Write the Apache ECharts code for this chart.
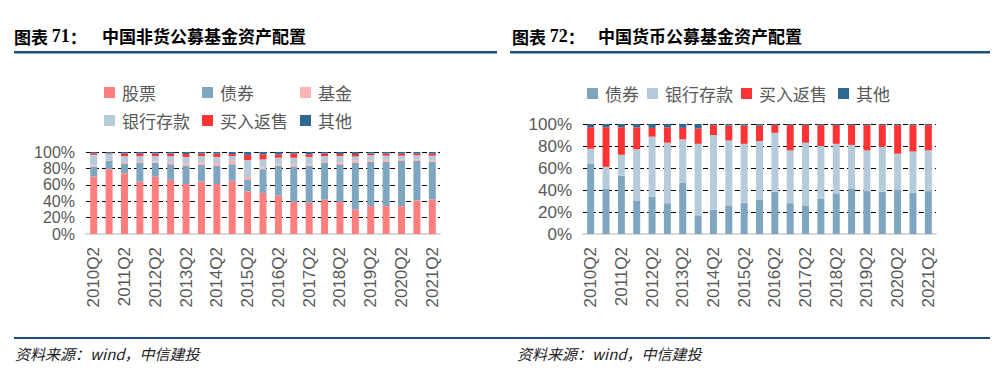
<!DOCTYPE html>
<html>
<head>
<meta charset="utf-8">
<script src="https://cdn.jsdelivr.net/npm/echarts@6/dist/echarts.min.js"></script>
<style>
html,body{margin:0;padding:0;background:#fff;}
#c{width:1002px;height:384px;}
</style>
</head>
<body>
<div id="c"></div>
<script>
// ---- data ----
const categories = ['2010Q2','2010Q4','2011Q2','2011Q4','2012Q2','2012Q4','2013Q2','2013Q4','2014Q2','2014Q4','2015Q2','2015Q4','2016Q2','2016Q4','2017Q2','2017Q4','2018Q2','2018Q4','2019Q2','2019Q4','2020Q2','2020Q4','2021Q2'];
const yTicks = [0, 20, 40, 60, 80, 100];

// Chart 71: non-money public funds (%)
const ncStock   = [70, 79, 74, 64, 70, 66, 61, 64, 61, 65, 52, 50, 47, 39, 38, 42, 39, 30, 34, 34, 34, 41, 42];
const ncBond    = [12, 10, 12, 23, 17, 19, 22, 20.5, 22, 20, 14.5, 29, 36, 43, 45, 45, 46, 57, 54, 54, 55, 48, 46];
const ncFund    = [1.5, 1, 2, 2, 1.5, 3, 3, 3, 3.5, 4, 3, 2, 2, 3, 2, 2, 2.5, 3, 2, 2.5, 2, 2, 2];
const ncDeposit = [13, 8, 7, 6, 6.5, 7, 8, 7.5, 7.5, 6, 20.5, 10, 8, 8, 9, 6, 7.5, 4.5, 6, 5, 4.5, 5, 5.5];
const ncRepo    = [2, 0.5, 3, 3, 3, 3, 3.5, 3, 4, 2.5, 6.5, 6, 4, 5, 3, 3, 2.5, 3, 2, 2.5, 2.5, 2, 2.5];
const ncOther   = [1.5, 1.5, 2, 2, 2, 2, 2.5, 2, 2, 2.5, 3.5, 3, 3, 2, 3, 2, 2.5, 2.5, 2, 2, 2, 2, 2];

// Chart 72: money market funds (%)
const mBond    = [64, 41, 53, 30, 34, 28, 46.5, 17, 22, 26, 28.5, 31, 38.5, 28, 26, 32, 37, 41.5, 39, 38.5, 40, 37.5, 39];
const mDeposit = [13.5, 20, 19, 47, 54.5, 55, 39.5, 65, 68, 59, 53.5, 53.5, 53.5, 48, 57, 48, 45, 39.5, 37, 41, 33, 37.5, 37];
const mRepo    = [19.5, 36, 25, 20, 8, 14, 10.5, 14, 9, 13.5, 16.5, 14, 7, 23, 16, 19, 17, 18, 23, 19.5, 26, 24, 23];
const mOther   = [3, 3, 3, 3, 3.5, 3, 3.5, 4, 1, 1.5, 1.5, 1.5, 1, 1, 1, 1, 1, 1, 1, 1, 1, 1, 1];

// ---- style ----
const C = {
  stock: '#FF7F7F', bond: '#7FA6C0', fund: '#FFB3B5',
  deposit: '#B5CBDA', repo: '#FF3333', other: '#2E6990'
};
const labelColor = '#595959';
const latin = '"Liberation Sans", Arial, "Noto Sans CJK SC", sans-serif';
const cjk = '"Noto Sans CJK SC", sans-serif';
const serif = '"Liberation Serif", "Times New Roman", serif';

const chart = echarts.init(document.getElementById('c'), null, {renderer: 'svg'});

function xAxis(gi) {
  return {
    type: 'category', gridIndex: gi, data: categories,
    axisLine: {show: true, lineStyle: {color: '#D9D9D9', width: 2}},
    axisTick: {show: false},
    axisLabel: {interval: 1, rotate: 90, margin: 13, color: labelColor, fontSize: 17, fontFamily: latin}
  };
}
function yAxis(gi, fs) {
  return {
    type: 'value', gridIndex: gi, min: yTicks[0], max: yTicks[yTicks.length - 1],
    interval: yTicks[1] - yTicks[0],
    axisLine: {show: false}, axisTick: {show: false},
    axisLabel: {margin: 11, color: labelColor, fontSize: fs, lineHeight: fs - 2, fontFamily: latin,
      showMinLabel: true, showMaxLabel: true, hideOverlap: false, formatter: v => v + '%'},
    splitLine: {show: true, lineStyle: {color: '#000', type: [5, 3], width: 1}}
  };
}
function bar(name, data, color, gi, stack) {
  return {
    name, type: 'bar', stack, data, xAxisIndex: gi, yAxisIndex: gi,
    barWidth: 7, itemStyle: {color}, emphasis: {disabled: true}, animation: false
  };
}
function legend(name, left, top) {
  return {
    data: [name], left, top, itemWidth: 11, itemHeight: 11, itemGap: 0,
    icon: 'rect', selectedMode: false,
    textStyle: {color: labelColor, fontSize: 17, fontFamily: cjk, padding: [0, 0, 0, 2]}
  };
}
function title(num, left) {
  return {type: 'text', left, top: 27, style: {
    text: '{a|图表 }{b|' + num + '}{a|：}',
    rich: {a: {font: 'bold 17px ' + cjk, fill: '#000'}, b: {font: 'bold 18px ' + serif, fill: '#000'}}
  }};
}

const option = {
  animation: false,
  grid: [
    {left: 86, top: 152, width: 354, height: 82},
    {left: 583, top: 124, width: 353, height: 110}
  ],
  xAxis: [xAxis(0), xAxis(1)],
  yAxis: [yAxis(0, 16), yAxis(1, 17)],
  legend: [
    legend('股票', 99, 79), legend('债券', 197, 79), legend('基金', 295, 79),
    legend('银行存款', 99, 107), legend('买入返售', 197, 107), legend('其他', 295, 107),
    legend('债券 ', 582, 80), legend('银行存款 ', 642, 80), legend('买入返售 ', 736, 80), legend('其他 ', 833, 80)
  ],
  series: [
    bar('股票', ncStock, C.stock, 0, 'a'),
    bar('债券', ncBond, C.bond, 0, 'a'),
    bar('基金', ncFund, C.fund, 0, 'a'),
    bar('银行存款', ncDeposit, C.deposit, 0, 'a'),
    bar('买入返售', ncRepo, C.repo, 0, 'a'),
    bar('其他', ncOther, C.other, 0, 'a'),
    bar('债券 ', mBond, C.bond, 1, 'b'),
    bar('银行存款 ', mDeposit, C.deposit, 1, 'b'),
    bar('买入返售 ', mRepo, C.repo, 1, 'b'),
    bar('其他 ', mOther, C.other, 1, 'b')
  ],
  graphic: [
    title('71', 14),
    {type: 'text', left: 102, top: 27, style: {text: '中国非货公募基金资产配置', font: 'bold 17px ' + cjk, fill: '#000'}},
    title('72', 512),
    {type: 'text', left: 598, top: 27, style: {text: '中国货币公募基金资产配置', font: 'bold 17px ' + cjk, fill: '#000'}},
    {type: 'rect', shape: {x: 14, y: 51, width: 483, height: 2.5}, style: {fill: '#1F4E79'}},
    {type: 'rect', shape: {x: 510, y: 51, width: 480, height: 2.5}, style: {fill: '#1F4E79'}},
    {type: 'rect', shape: {x: 14, y: 337, width: 976, height: 2}, style: {fill: '#1F4E79'}},
    {type: 'text', left: 15, top: 346, style: {text: '资料来源：wind，中信建投', font: 'italic 15px ' + cjk, fill: '#222'}},
    {type: 'text', left: 517, top: 346, style: {text: '资料来源：wind，中信建投', font: 'italic 15px ' + cjk, fill: '#222'}}
  ]
};
chart.setOption(option);
</script>
</body>
</html>
